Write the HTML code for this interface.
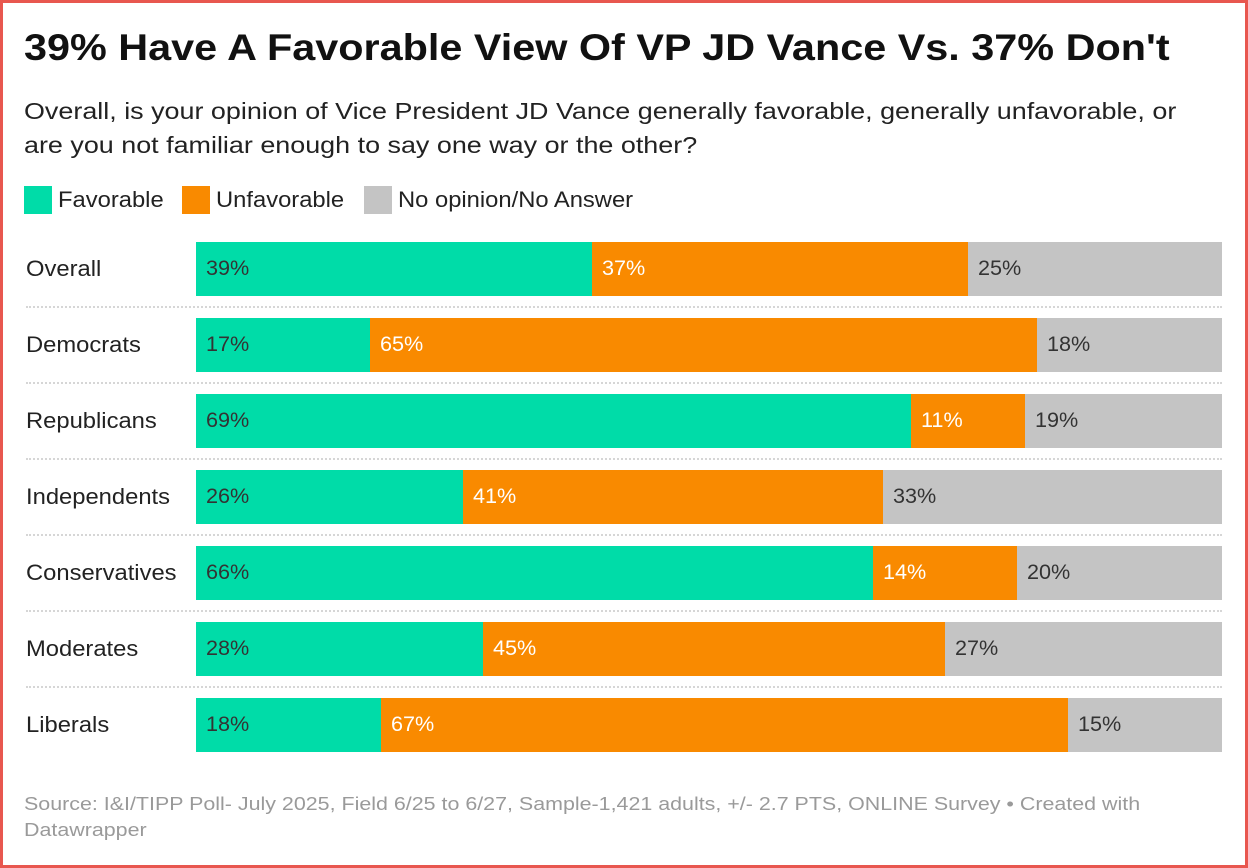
<!DOCTYPE html>
<html><head><meta charset="utf-8"><style>
html,body{margin:0;padding:0}
body{width:1248px;height:868px;position:relative;overflow:hidden;background:#fff;font-family:"Liberation Sans",sans-serif;color:#222}
#frame{position:absolute;left:0;top:0;width:1242px;height:862px;border:3px solid #e8574f}
.t{position:absolute;white-space:nowrap;transform-origin:0 0}
#title{left:24px;top:27px;font-size:37px;font-weight:bold;color:#111;transform:scaleX(1.118)}
#sub{left:24px;top:94px;font-size:23px;line-height:34px;color:#222;transform:scaleX(1.17)}
.sw{position:absolute;top:186px;width:28px;height:28px}
.lg{position:absolute;top:187px;font-size:22px;color:#222;transform:scaleX(1.08)}
#foot{left:24px;top:791px;font-size:18px;line-height:26px;color:#9a9a9a;transform:scaleX(1.19)}
</style></head><body>
<div id="frame"></div>
<div class="t" id="title">39% Have A Favorable View Of VP JD Vance Vs. 37% Don't</div>
<div class="t" id="sub">Overall, is your opinion of Vice President JD Vance generally favorable, generally unfavorable, or<br>are you not familiar enough to say one way or the other?</div>
<div class="sw" style="left:24px;background:#00dca8"></div>
<div class="lg t" style="left:58px">Favorable</div>
<div class="sw" style="left:182px;background:#f98a00"></div>
<div class="lg t" style="left:216px">Unfavorable</div>
<div class="sw" style="left:364px;background:#c4c4c4"></div>
<div class="lg t" style="left:398px">No opinion/No Answer</div>
<div id="chart"></div>
<div class="t" id="foot">Source: I&amp;I/TIPP Poll- July 2025, Field 6/25 to 6/27, Sample-1,421 adults, +/- 2.7 PTS, ONLINE Survey • Created with<br>Datawrapper</div>
<script>
const categories=["Overall","Democrats","Republicans","Independents","Conservatives","Moderates","Liberals"];
const favorable=[39,17,69,26,66,28,18];
const unfavorable=[37,65,11,41,14,45,67];
const noOpinion=[25,18,19,33,20,27,15];
const chart=document.getElementById('chart');
const x0=196,W=1026,top0=242,pitch=76,bh=54;
const series=[[favorable,'#00dca8','#333','favorable'],[unfavorable,'#f98a00','#fff','unfavorable'],[noOpinion,'#c4c4c4','#333','no-opinion']];
categories.forEach((c,i)=>{
  const y=top0+i*pitch;
  const lab=document.createElement('div');
  lab.className='t';lab.textContent=c;
  lab.style.cssText=`left:26px;top:${y+14}px;font-size:22px;color:#222;transform:scaleX(1.08)`;
  
  
  chart.appendChild(lab);
  const sum=favorable[i]+unfavorable[i]+noOpinion[i];
  let x=x0;
  series.forEach(s=>{
    const v=s[0][i];const w=v/sum*W;
    const b=document.createElement('div');
    b.style.cssText=`position:absolute;left:${x}px;top:${y}px;width:${w+0.5}px;height:${bh}px;background:${s[1]}`;
    
    
    chart.appendChild(b);
    const tx=document.createElement('div');
    tx.className='t';tx.textContent=v+'%';
    tx.style.cssText=`left:${x+10}px;top:${y+15}px;font-size:21px;color:${s[2]};transform:scaleX(1.03)`;
    
    
    chart.appendChild(tx);
    x+=w;
  });
  if(i<categories.length-1){
    const sep=document.createElement('div');
    sep.style.cssText=`position:absolute;left:26px;top:${y+bh+10}px;width:1196px;border-top:2px dotted #d6d6d6`;
    
    
    chart.appendChild(sep);
  }
});
</script>
</body></html>
